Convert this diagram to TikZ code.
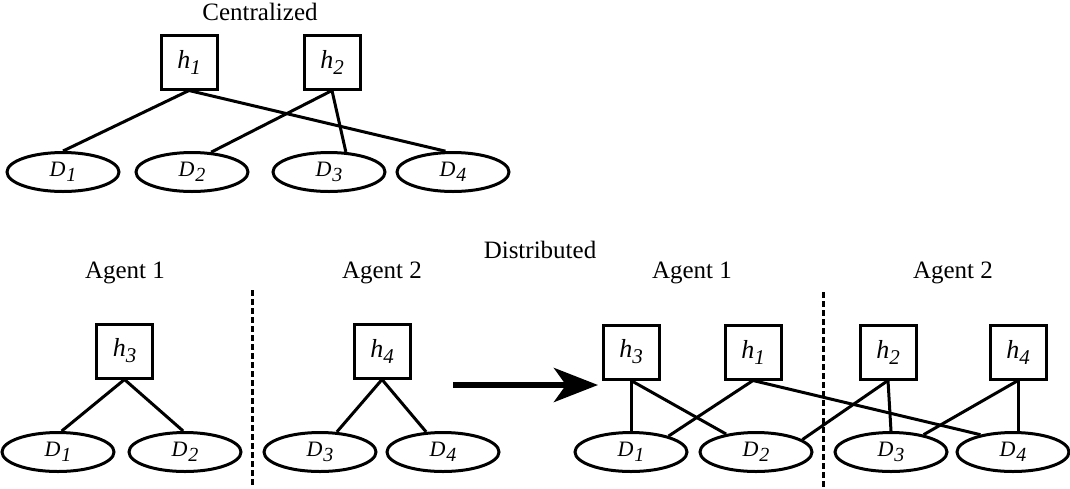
\documentclass[tikz,border=0pt]{standalone}
\usepackage{fontspec}
\setmainfont{Liberation Serif}
\usetikzlibrary{arrows.meta,shapes.geometric}
\newcommand\hlab[2]{\textit{#1}\raisebox{-3pt}{\fontsize{10.5}{10.5}\selectfont\textit{#2}}}
\newcommand\dlab[2]{\textit{#1}\kern0.5pt\raisebox{-2.5pt}{\fontsize{10}{10}\selectfont\textit{#2}}}
\begin{document}
\begin{tikzpicture}[x=0.5pt,y=-0.5pt,
  hyp/.style={draw,line width=1.5pt,minimum width=28pt,minimum height=27pt,inner sep=0pt,font=\fontsize{13}{13}\selectfont},
  dom/.style={draw,ellipse,line width=1.5pt,minimum width=56pt,minimum height=19.5pt,inner sep=0pt,font=\fontsize{11}{11}\selectfont},
  link/.style={line width=1.5pt},
  sep/.style={line width=1.5pt,dash pattern=on 3pt off 1.5pt},
  title/.style={font=\fontsize{12.5}{13}\selectfont,anchor=base,inner sep=0pt}]
\useasboundingbox (0,0) rectangle (1070,488);

% Centralized
\node[title] (tc) at (260,20) {Centralized};
\node[hyp] (h1) at (189,62) {\hlab{h}{1}};
\node[hyp] (h2) at (332,62) {\hlab{h}{2}};
\node[dom] (D1) at (63,172) {\dlab{D}{1}};
\node[dom] (D2) at (192,172) {\dlab{D}{2}};
\node[dom] (D3) at (329,172) {\dlab{D}{3}};
\node[dom] (D4) at (453,172) {\dlab{D}{4}};
\draw[link] (h1.south) -- (D1.north);
\draw[link] (h1.south) -- (D4.110);
\draw[link] (h2.south) -- (D2.46);
\draw[link] (h2.south) -- (D3.50);

% Distributed
\node[title] (td) at (540,258) {Distributed};
\node[title] (l1) at (125,278) {Agent 1};
\node[title] (l2) at (382,278) {Agent 2};
\node[title] (r1) at (692,278) {Agent 1};
\node[title] (r2) at (953,278) {Agent 2};

\coordinate (s1t) at (252,290);
\coordinate (s1b) at (252,488);
\coordinate (s2t) at (823,292);
\coordinate (s2b) at (823,488);
\draw[sep] (s1t) -- (s1b);
\draw[sep] (s2t) -- (s2b);

\node[hyp] (a3) at (124.5,351) {\hlab{h}{3}};
\node[hyp] (a4) at (382,351) {\hlab{h}{4}};
\node[dom] (e1) at (58,452) {\dlab{D}{1}};
\node[dom] (e2) at (185,452) {\dlab{D}{2}};
\node[dom] (e3) at (320,452) {\dlab{D}{3}};
\node[dom] (e4) at (443,452) {\dlab{D}{4}};
\draw[link] (a3.south) -- (e1.80);
\draw[link] (a3.south) -- (e2.95);
\draw[link] (a4.south) -- (e3.50);
\draw[link] (a4.south) -- (e4.130);

\coordinate (as) at (453,385);
\coordinate (ae) at (598,385);
\draw[line width=3pt,-{Stealth[length=22pt,width=17pt,inset=6pt]}] (as) -- (ae);

\node[hyp] (b3) at (631,352) {\hlab{h}{3}};
\node[hyp] (b1) at (753,352) {\hlab{h}{1}};
\node[hyp] (b2) at (888,352) {\hlab{h}{2}};
\node[hyp] (b4) at (1018,352) {\hlab{h}{4}};
\node[dom] (f1) at (631,452) {\dlab{D}{1}};
\node[dom] (f2) at (756,452) {\dlab{D}{2}};
\node[dom] (f3) at (891,452) {\dlab{D}{3}};
\node[dom] (f4) at (1013,452) {\dlab{D}{4}};
\draw[link] (b3.south) -- (f1.north);
\draw[link] (b3.south) -- (f2.149);
\draw[link] (b1.south) -- (f1.23);
\draw[link] (b1.south) -- (f4.152);
\draw[link] (b2.south) -- (f3.north);
\draw[link] (b2.south) -- (f2.15);
\draw[link] (b4.south) -- (b4.south |- f4.north);
\draw[link] (b4.south) -- (f3.28);
\end{tikzpicture}
\end{document}
